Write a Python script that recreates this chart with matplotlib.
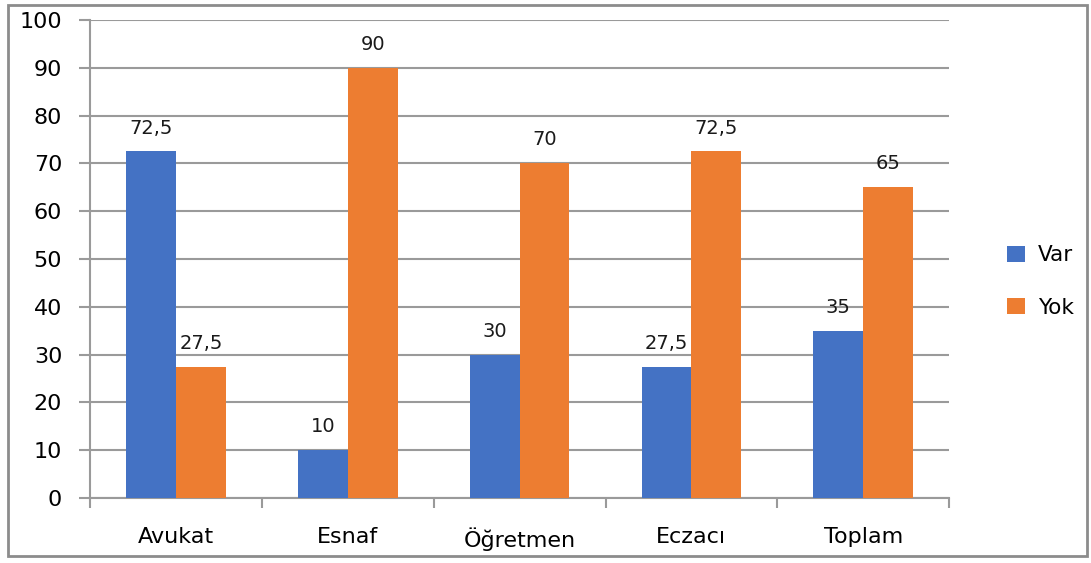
import numpy as np
import matplotlib.pyplot as plt
from matplotlib.patches import Rectangle

categories = ['Avukat', 'Esnaf', 'Öğretmen', 'Eczacı', 'Toplam']
var_values = [72.5, 10, 30, 27.5, 35]
yok_values = [27.5, 90, 70, 72.5, 65]
series_names = ['Var', 'Yok']
yticks = list(range(0, 101, 10))

blue = '#4472C4'
orange = '#ED7D31'
grid_c = '#9a9a9a'

plt.rcParams['font.family'] = ['DejaVu Sans']

fig = plt.figure(figsize=(10.91, 5.63), dpi=100)
ax = fig.add_axes([0.0825, 0.1155, 0.7875, 0.849])

x = np.arange(len(categories))
w = 0.29
b1 = ax.bar(x - w / 2, var_values, w, color=blue, label=series_names[0], zorder=3)
b2 = ax.bar(x + w / 2, yok_values, w, color=orange, label=series_names[1], zorder=3)

# value labels above each bar
for bars, vals in ((b1, var_values), (b2, yok_values)):
    for rect, v in zip(bars, vals):
        txt = f'{v:g}'.replace('.', ',')
        ax.annotate(txt, (rect.get_x() + rect.get_width() / 2, v),
                    xytext=(0, 10), textcoords='offset points',
                    ha='center', va='bottom', fontsize=14, color='#1a1a1a')

ax.set_xlim(-0.5, len(categories) - 0.5)
ax.set_ylim(0, 100)
ax.set_yticks(yticks)
ax.tick_params(axis='y', length=8, width=1.5, color=grid_c, pad=12, labelsize=16)
ax.yaxis.grid(True, color=grid_c, linewidth=1.5, zorder=0)

ax.set_xticks(x)
ax.set_xticklabels(categories)
ax.set_xticks(np.arange(-0.5, len(categories)), minor=True)
ax.tick_params(axis='x', which='major', length=0, pad=21, labelsize=16)
ax.tick_params(axis='x', which='minor', length=7, width=1.5, color=grid_c)

for s in ('top', 'right'):
    ax.spines[s].set_visible(False)
for s in ('left', 'bottom'):
    ax.spines[s].set_color(grid_c)
    ax.spines[s].set_linewidth(1.5)

ax.legend(loc='center left', bbox_to_anchor=(0.905, 0.5), bbox_transform=fig.transFigure,
          frameon=False, fontsize=15.5, handlelength=0.85, handleheight=0.75,
          handletextpad=0.6, labelspacing=1.5)

# grey frame around the whole chart
fig.patches.append(Rectangle((0.007, 0.012), 0.989, 0.979, transform=fig.transFigure,
                             fill=False, edgecolor='#8c8c8c', linewidth=2))

fig.savefig('out.png', dpi=100)
